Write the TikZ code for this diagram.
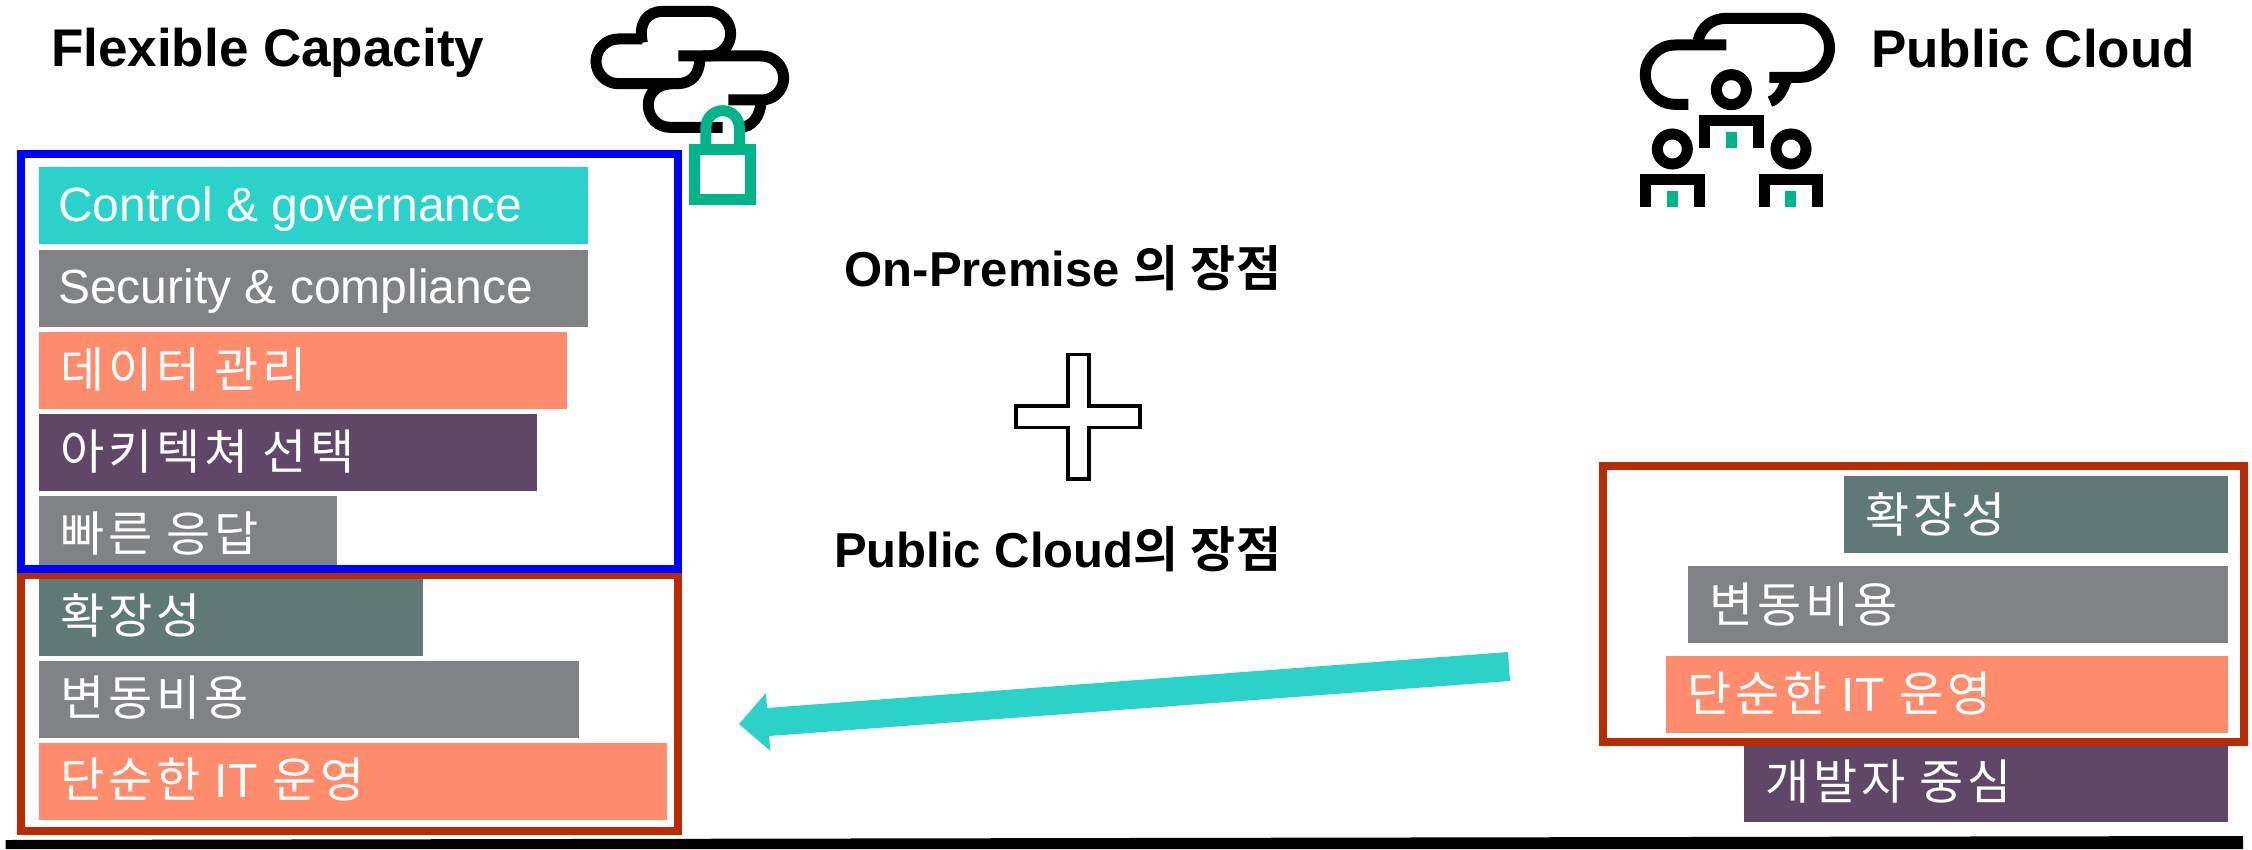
\documentclass[tikz,border=0pt]{standalone}
\usepackage{fontspec}
\setmainfont{Liberation Sans}
\newfontfamily\kr{Noto Sans CJK KR}[LetterSpace=8]
\newfontfamily\krb{Noto Sans CJK KR}[BoldFont={Noto Sans CJK KR Bold},LetterSpace=2]
\definecolor{hteal}{HTML}{2AD2C9}
\definecolor{hgray}{HTML}{808285}
\definecolor{horange}{HTML}{FF8D6D}
\definecolor{hpurple}{HTML}{614767}
\definecolor{hslate}{HTML}{5F7A76}
\definecolor{hgreen}{HTML}{00B388}
\definecolor{hred}{HTML}{B72C04}
\tikzset{
  x=1pt,y=-1pt,
  lbl/.style={anchor=base west,inner sep=0,text=white,font=\fontsize{48}{48}\selectfont},
  klbl/.style={anchor=base west,inner sep=0,text=white,font=\fontsize{48}{48}\selectfont\kr},
  ttl/.style={anchor=base west,inner sep=0,font=\fontsize{53}{53}\selectfont\bfseries},
  mid/.style={anchor=base east,inner sep=0,font=\fontsize{49}{49}\selectfont\bfseries},
  frame/.style={draw,line width=8pt,miter limit=10},
  ico/.style={line width=11pt,black},
  gic/.style={line width=11pt,hgreen}
}
\newcommand{\barbox}[6]{\fill[#6] (#2,#3) rectangle (#4,#5);\coordinate (#1) at (#2,#3);}
\begin{document}
\begin{tikzpicture}
\useasboundingbox (0,0) rectangle (2252,849);
% left bars
\barbox{a}{39}{167}{588}{244}{hteal}
\barbox{b}{39}{250}{588}{327}{hgray}
\barbox{c}{39}{332}{567}{409}{horange}
\barbox{d}{39}{414}{537}{491}{hpurple}
\barbox{e}{39}{496}{337}{573}{hgray}
\barbox{f}{39}{579}{423}{656}{hslate}
\barbox{g}{39}{661}{579}{738}{hgray}
\barbox{h}{39}{743}{667}{820}{horange}
% right bars
\barbox{r1}{1844}{476}{2228}{553}{hslate}
\barbox{r2}{1688}{566}{2228}{643}{hgray}
\barbox{r3}{1666}{656}{2228}{733}{horange}
\barbox{r4}{1744}{745}{2228}{822}{hpurple}
% frames
\draw[frame,hred] (21,574.5) rectangle (678,830.5);
\draw[frame,blue,line width=7.6pt] (21,154) rectangle (678,569);
\draw[frame,hred] (1603,466) rectangle (2244,742);
% left labels
\node[lbl] (ta) at (58,221) {Control \& governance};
\node[lbl] (tb) at (58,303) {Security \& compliance};
\node[klbl] (tc) at (60,387) {데이터 관리};
\node[klbl] (td) at (60,469) {아키텍쳐 선택};
\node[klbl] (te) at (60,551) {빠른 응답};
\node[klbl] (tf) at (60,633) {확장성};
\node[klbl] (tg) at (60,715) {변동비용};
\node[klbl] (th) at (60,797) {단순한 {\fontspec{Liberation Sans}IT} 운영};
% right labels
\node[klbl] (t1) at (1865,532) {확장성};
\node[klbl] (t2) at (1709,622) {변동비용};
\node[klbl] (t3) at (1687,711) {단순한 {\fontspec{Liberation Sans}IT} 운영};
\node[klbl] (t4) at (1765,799) {개발자 중심};
% titles
\node[ttl] (fc) at (51,66) {Flexible Capacity};
\node[ttl] (pc) at (1871,67) {Public Cloud};
\node[mid] (op) at (1282,286) {On-Premise {\krb 의 장점}};
\node[mid] (pp) at (1282,567) {Public Cloud{\krb 의 장점}};
% plus
\draw[black,line width=3.7pt,fill=white,miter limit=10] (1067.8,354.5) -- (1088.9,354.5) -- (1088.9,406.2) -- (1140.2,406.2) -- (1140.2,427.4) -- (1088.9,427.4) -- (1088.9,478.9) -- (1067.8,478.9) -- (1067.8,427.4) -- (1015.8,427.4) -- (1015.8,406.2) -- (1067.8,406.2) -- cycle;
% arrow
\fill[hteal] (1508,652) -- (1510,681) -- (769,736) -- (770.5,751) -- (739,724) -- (766,693) -- (767,708) -- cycle;
% bottom rule
\fill[black] (5.5,840) -- (2243,836) -- (2243,849) -- (5.5,849) -- cycle;
% cloud lock icon
\begin{scope}[shift={(560,0)},x=0.3333pt,y=-0.3333pt]
\draw[ico] (355,168) -- (605,168) arc[start angle=-90,end angle=90,radius=66] -- (505,300);
\draw[ico] (247,128) .. controls (235,70) and (260,34) .. (310,34) -- (445,34) arc[start angle=-90,end angle=90,radius=67] -- (430,168);
\draw[ico] (247,117) -- (175,117) arc[start angle=-90,end angle=-270,radius=67] -- (350,251) .. controls (395,251) and (420,225) .. (420,168);
\draw[ico] (340,251) .. controls (290,251) and (265,280) .. (265,315) .. controls (265,355) and (295,382) .. (330,382) -- (488,382);
\draw[ico] (603,300) .. controls (603,350) and (575,382) .. (540,382);
\draw[gic] (404,449) rectangle (571,598);
\draw[gic] (438,432) -- (438,382) arc[start angle=180,end angle=360,radius=50] -- (538,432);
\end{scope}
% cloud people icon
\begin{scope}[shift={(1620,0)},x=0.3333pt,y=-0.3333pt]
\draw[ico] (319,135) -- (165,135) arc[start angle=-90,end angle=-270,radius=89] -- (205,313);
\draw[ico] (234,122) .. controls (245,80) and (275,55) .. (320,55) -- (540,55) arc[start angle=-90,end angle=90,radius=88.5] -- (448,232);
\draw[ico] (500,235) .. controls (490,270) and (475,297) .. (450,305);
\draw[ico] (334,269) circle[radius=45];
\draw[ico] (157,447) circle[radius=45];
\draw[ico] (513,447) circle[radius=45];
\draw[ico] (253,443) -- (253,362) -- (416,362) -- (416,443);
\draw[ico] (76,621) -- (76,539) -- (238,539) -- (238,621);
\draw[ico] (432,621) -- (432,539) -- (594,539) -- (594,621);
\fill[hgreen] (319,395) rectangle (351,443);
\fill[hgreen] (140,572) rectangle (174,621);
\fill[hgreen] (496,572) rectangle (528,621);
\end{scope}
\end{tikzpicture}
\end{document}
